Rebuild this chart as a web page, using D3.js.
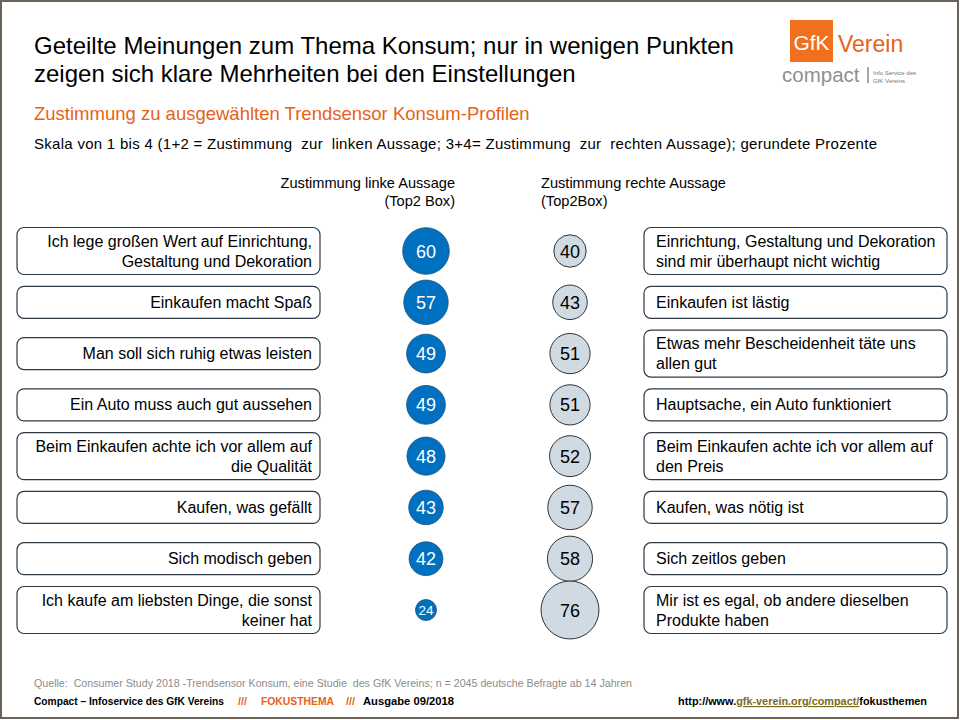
<!DOCTYPE html>
<html><head><meta charset="utf-8">
<script src="https://cdn.jsdelivr.net/npm/d3@7"></script>
<style>body{margin:0;background:#fff}svg{display:block}text{font-family:"Liberation Sans",Arial,sans-serif;white-space:pre}</style>
</head><body>
<svg id="c" width="960" height="720"></svg>
<script>
const leftLabels = [
  ["Ich lege großen Wert auf Einrichtung,", "Gestaltung und Dekoration"],
  ["Einkaufen macht Spaß"],
  ["Man soll sich ruhig etwas leisten"],
  ["Ein Auto muss auch gut aussehen"],
  ["Beim Einkaufen achte ich vor allem auf", "die Qualität"],
  ["Kaufen, was gefällt"],
  ["Sich modisch geben"],
  ["Ich kaufe am liebsten Dinge, die sonst", "keiner hat"]
];
const rightLabels = [
  ["Einrichtung, Gestaltung und Dekoration", "sind mir überhaupt nicht wichtig"],
  ["Einkaufen ist lästig"],
  ["Etwas mehr Bescheidenheit täte uns", "allen gut"],
  ["Hauptsache, ein Auto funktioniert"],
  ["Beim Einkaufen achte ich vor allem auf", "den Preis"],
  ["Kaufen, was nötig ist"],
  ["Sich zeitlos geben"],
  ["Mir ist es egal, ob andere dieselben", "Produkte haben"]
];
const leftValues = [60, 57, 49, 49, 48, 43, 42, 24];
const rightValues = [40, 43, 51, 51, 52, 57, 58, 76];

const svg = d3.select("#c");

// frame
svg.append("rect").attr("x", 1).attr("y", 1).attr("width", 957).attr("height", 717)
  .attr("fill", "none").attr("stroke", "#6b6358").attr("stroke-width", 2);

// titles
const t = svg.append("text").attr("font-size", 24).attr("fill", "#000");
t.append("tspan").attr("x", 34).attr("y", 54).text("Geteilte Meinungen zum Thema Konsum; nur in wenigen Punkten");
t.append("tspan").attr("x", 34).attr("y", 82).text("zeigen sich klare Mehrheiten bei den Einstellungen");
svg.append("text").attr("x", 34).attr("y", 120).attr("font-size", 18.5).attr("fill", "#e8611a")
  .text("Zustimmung zu ausgewählten Trendsensor Konsum-Profilen");
svg.append("text").attr("x", 34).attr("y", 149).attr("font-size", 15).attr("fill", "#000")
  .attr("textLength", 843).attr("lengthAdjust", "spacing")
  .text("Skala von 1 bis 4 (1+2 = Zustimmung  zur  linken Aussage; 3+4= Zustimmung  zur  rechten Aussage); gerundete Prozente");

// logo
svg.append("rect").attr("x", 790).attr("y", 20).attr("width", 43).attr("height", 42).attr("fill", "#f0701e");
svg.append("text").attr("x", 811.5).attr("y", 50).attr("text-anchor", "middle").attr("font-size", 21)
  .attr("fill", "#fff").text("GfK");
svg.append("text").attr("x", 838).attr("y", 52).attr("font-size", 23).attr("fill", "#e8611a").text("Verein");
svg.append("text").attr("x", 782).attr("y", 82).attr("font-size", 20.5).attr("fill", "#8f8f8f").text("compact");
svg.append("line").attr("x1", 868).attr("x2", 868).attr("y1", 67).attr("y2", 83).attr("stroke", "#8a8a8a").attr("stroke-width", 1.5);
svg.append("text").attr("x", 873).attr("y", 75).attr("font-size", 6).attr("fill", "#777").text("Info Service des");
svg.append("text").attr("x", 873).attr("y", 83).attr("font-size", 6).attr("fill", "#777").text("GfK Vereins");

// column headers
const xL = 426, xR = 570;
const hl = svg.append("text").attr("text-anchor", "end").attr("font-size", 14.6).attr("fill", "#000");
hl.append("tspan").attr("x", 455).attr("y", 188).text("Zustimmung linke Aussage");
hl.append("tspan").attr("x", 455).attr("y", 206).text("(Top2 Box)");
const hr = svg.append("text").attr("text-anchor", "start").attr("font-size", 14.6).attr("fill", "#000");
hr.append("tspan").attr("x", 541).attr("y", 188).text("Zustimmung rechte Aussage");
hr.append("tspan").attr("x", 541).attr("y", 206).text("(Top2Box)");

// scales
const idx = d3.range(leftValues.length);
const y = d3.scalePoint().domain(idx).range([251, 610]);
const r = d3.scaleLinear().domain([0, 100]).range([2, 37.5]);

const boxH = n => n === 2 ? 47 : 32;
const lineGap = 20;

function boxes(labels, x, tx, anchor) {
  const g = svg.append("g").selectAll("g").data(idx).join("g");
  g.append("rect").attr("x", x).attr("width", 303)
    .attr("y", i => y(i) - boxH(labels[i].length) / 2)
    .attr("height", i => boxH(labels[i].length))
    .attr("rx", 7).attr("fill", "#fff").attr("stroke", "#2e3a46").attr("stroke-width", 1.2);
  g.each(function (i) {
    const lines = labels[i];
    const te = d3.select(this).append("text").attr("text-anchor", anchor).attr("font-size", 16).attr("fill", "#000");
    lines.forEach((s, k) => {
      te.append("tspan").attr("x", tx)
        .attr("y", y(i) + (k - (lines.length - 1) / 2) * lineGap + 5.5).text(s);
    });
  });
}
boxes(leftLabels, 17, 312, "end");
boxes(rightLabels, 644, 656, "start");

// circles left
const cl = svg.append("g").selectAll("g").data(idx).join("g");
cl.append("circle").attr("cx", xL).attr("cy", i => y(i)).attr("r", i => r(leftValues[i]))
  .attr("fill", "#0070c0").attr("stroke", "#1d4f7a").attr("stroke-width", 0.8);
cl.append("text").attr("x", xL).attr("y", i => y(i) + (leftValues[i] < 30 ? 5 : 6.5)).attr("text-anchor", "middle")
  .attr("font-size", i => leftValues[i] < 30 ? 13.5 : 18).attr("fill", "#fff").text(i => leftValues[i]);

// circles right
const cr = svg.append("g").selectAll("g").data(idx).join("g");
cr.append("circle").attr("cx", xR).attr("cy", i => y(i)).attr("r", i => r(rightValues[i]))
  .attr("fill", "#d0dae3").attr("stroke", "#333").attr("stroke-width", 1);
cr.append("text").attr("x", xR).attr("y", i => y(i) + 6.5).attr("text-anchor", "middle")
  .attr("font-size", 18).attr("fill", "#000").text(i => rightValues[i]);

// footer
const narrow = '"Liberation Sans Narrow","Arial Narrow","Liberation Sans",Arial,sans-serif';
svg.append("text").attr("x", 34).attr("y", 687).attr("font-size", 11).attr("fill", "#8c8c8c")
  .style("font-family", narrow).attr("textLength", 598).attr("lengthAdjust", "spacingAndGlyphs")
  .text("Quelle:  Consumer Study 2018 -Trendsensor Konsum, eine Studie  des GfK Vereins; n = 2045 deutsche Befragte ab 14 Jahren");
const foot = [
  {x: 34, w: 190, f: 10.4, s: "Compact – Infoservice des GfK Vereins", c: "#000"},
  {x: 238, w: 9, f: 11.5, s: "///", c: "#e8611a"},
  {x: 261, w: 73, f: 11.5, s: "FOKUSTHEMA", c: "#e8611a"},
  {x: 346, w: 9, f: 11.5, s: "///", c: "#e8611a"},
  {x: 363, w: 91, f: 11.5, s: "Ausgabe 09/2018", c: "#000"}
];
svg.append("g").selectAll("text").data(foot).join("text")
  .attr("x", d => d.x).attr("y", 705).attr("font-size", d => d.f).attr("font-weight", "bold")
  .style("font-family", narrow).attr("fill", d => d.c)
  .attr("textLength", d => d.w).attr("lengthAdjust", "spacingAndGlyphs").text(d => d.s);
const f3 = svg.append("text").attr("x", 678).attr("y", 705).attr("font-size", 11.5).attr("font-weight", "bold")
  .style("font-family", narrow).attr("fill", "#000").attr("textLength", 249).attr("lengthAdjust", "spacingAndGlyphs");
f3.append("tspan").text("http://www.");
f3.append("tspan").attr("fill", "#7a6a1c").attr("text-decoration", "underline").text("gfk-verein.org/compact/");
f3.append("tspan").text("fokusthemen");
</script>
</body></html>
